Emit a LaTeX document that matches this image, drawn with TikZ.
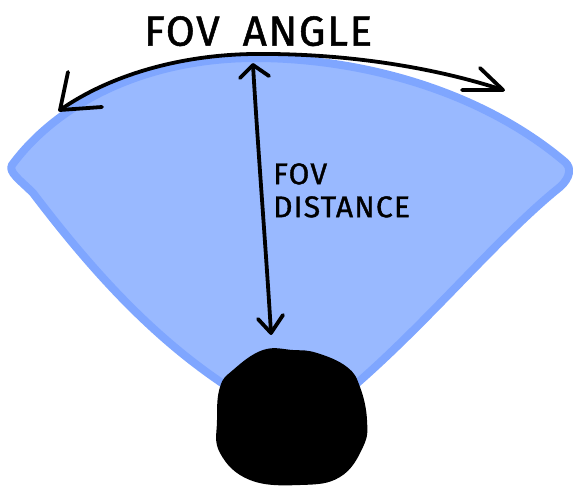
\documentclass[tikz,border=0pt]{standalone}
\usepackage{fontspec}
\setmainfont{Fira Sans}
\newfontfamily\handfont{Fira Sans}[LetterSpace=4,FakeBold=1.2]
\begin{document}
\begin{tikzpicture}[x=1pt,y=-1pt,
  ink/.style={line width=3.8pt,line cap=round,line join=round,draw=black},
  fanstyle/.style={fill=fanfill,draw=fanedge,line width=8pt,line join=round},
  label/.style={font=\handfont\fontsize{42}{46}\selectfont,inner sep=0pt,anchor=north west}]
\definecolor{fanfill}{HTML}{99B9FF}
\definecolor{fanedge}{HTML}{7FA6FF}
\useasboundingbox (0,0) rectangle (573,496);
% field-of-view fan
\path[fanstyle] (12,165)
  .. controls (60,100) and (150,58) .. (255,58)
  .. controls (360,58) and (480,90) .. (565,162)
  .. controls (572,168) and (570,178) .. (560,187)
  .. controls (500,235) and (430,320) .. (355,385)
  -- (225,385)
  .. controls (150,335) and (90,268) .. (33,193)
  .. controls (20,180) and (8,172) .. (12,165) -- cycle;
% viewer
\fill[black] plot[smooth cycle,tension=0.7] coordinates
  {(263,350) (293,350) (317,353) (347,367) (360,387) (367,420) (363,447) (340,477) (300,485) (250,480) (220,453) (217,420) (220,387) (233,370)};
% angle arc with open heads
\coordinate (al) at (60,110);
\coordinate (ar) at (503,90);
\draw[ink] (al) .. controls (110,75) and (180,55) .. (253,54) .. controls (340,53) and (430,66) .. (ar);
\draw[ink] (68,72) -- (al) -- (102,107);
\draw[ink] (480,68) -- (ar) -- (462,90);
% distance arrow
\coordinate (dt) at (253,65);
\coordinate (db) at (271,333);
\draw[ink] (dt) .. controls (258,150) and (266,250) .. (db);
\draw[ink] (240,78) -- (dt) -- (269,76);
\draw[ink] (258,319) -- (db) -- (283,315);
% labels
\node[label] (angle) at (144,16) {FOV\hspace{0.55em}ANGLE};
\node[label,font=\handfont\fontsize{30}{33}\selectfont,align=left] (dist) at (273,163) {FOV\\DISTANCE};
\end{tikzpicture}
\end{document}
